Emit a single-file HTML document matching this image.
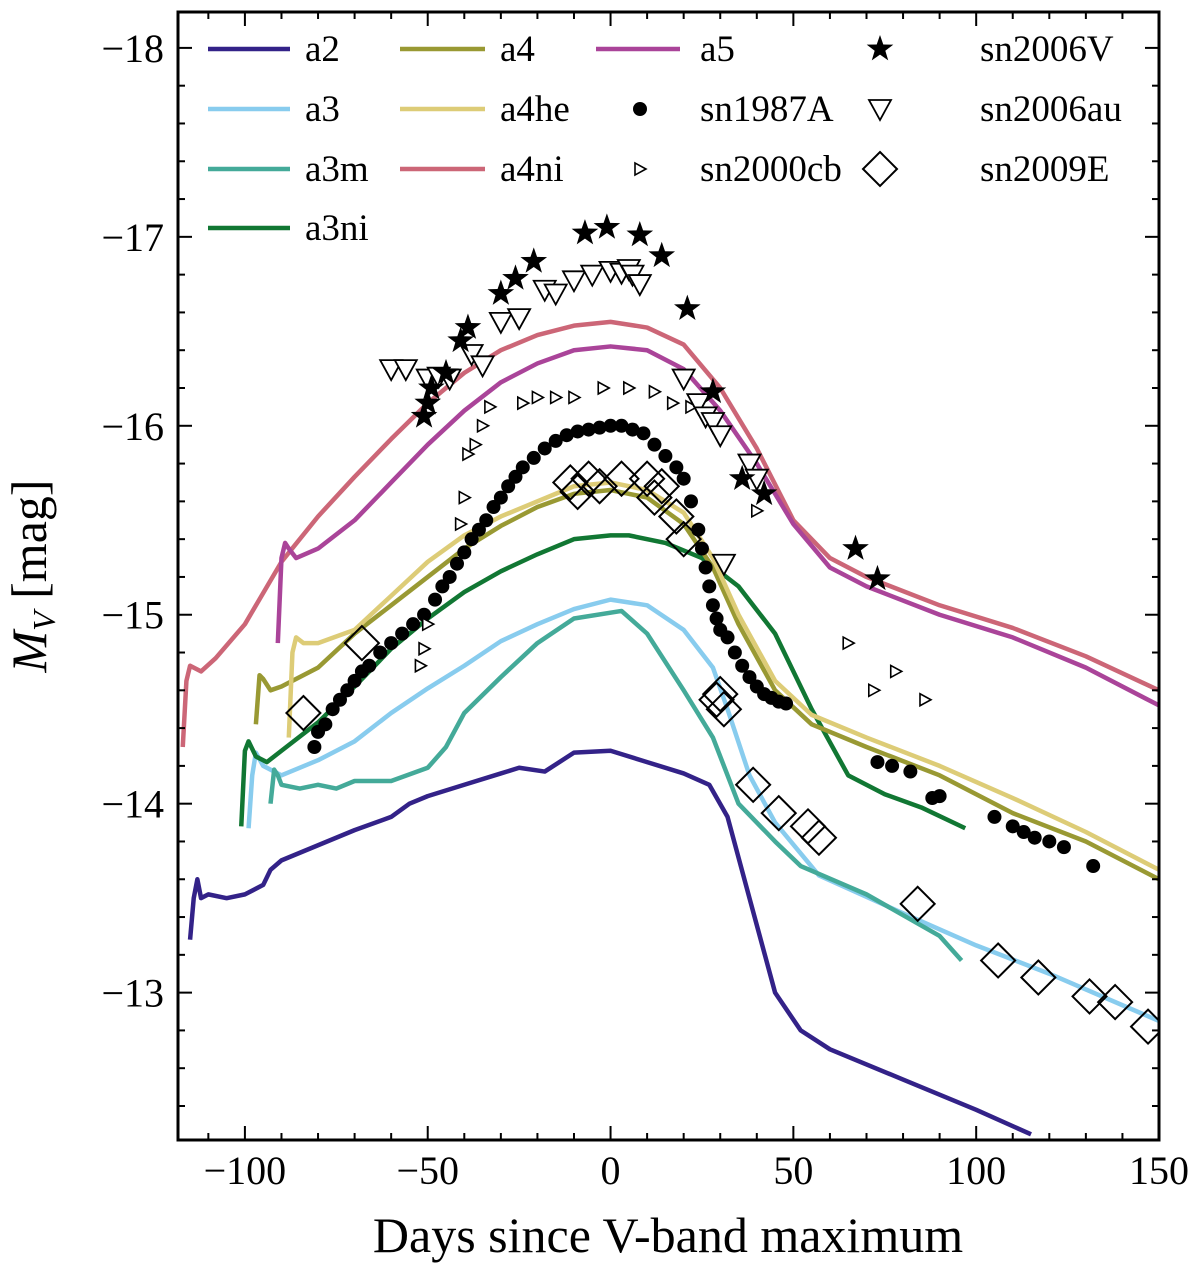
<!DOCTYPE html>
<html><head><meta charset="utf-8">
<style>
html,body{margin:0;padding:0;background:#fff;}
svg text{font-family:"Liberation Serif","DejaVu Serif",serif;fill:#000;}
</style></head>
<body>
<svg id="chart" width="1200" height="1275" viewBox="0 0 1200 1275" xmlns="http://www.w3.org/2000/svg">
<g id="marks"></g>
<g id="axes"></g>
<g id="legend"></g>
</svg>
<script>
// ---- data ----
const xTicks = [-100, -50, 0, 50, 100, 150];
const xTickLabels = ["\u2212100", "\u221250", "0", "50", "100", "150"];
const yTicks = [-18, -17, -16, -15, -14, -13];
const yTickLabels = ["\u221218", "\u221217", "\u221216", "\u221215", "\u221214", "\u221213"];

const a2Days = [-115,-114,-113,-112,-110,-105,-100,-95,-93,-90,-80,-70,-60,-55,-50,-40,-30,-25,-18,-10,0,10,20,27,32,38,45,52,60,80,100,115];
const a2Mag = [-13.28,-13.5,-13.6,-13.5,-13.52,-13.5,-13.52,-13.57,-13.65,-13.7,-13.78,-13.86,-13.93,-14.0,-14.04,-14.1,-14.16,-14.19,-14.17,-14.27,-14.28,-14.22,-14.16,-14.1,-13.93,-13.5,-13.0,-12.8,-12.7,-12.54,-12.38,-12.25];
const a3Days = [-99,-98,-97,-95,-90,-80,-70,-60,-50,-40,-30,-20,-10,0,10,20,28,32,38,45,57,80,100,120,150];
const a3Mag = [-13.87,-14.15,-14.27,-14.2,-14.15,-14.23,-14.33,-14.48,-14.61,-14.73,-14.86,-14.95,-15.03,-15.08,-15.05,-14.92,-14.72,-14.5,-14.15,-13.9,-13.62,-13.42,-13.25,-13.1,-12.85];
const a3mDays = [-93,-92,-91,-90,-85,-80,-75,-70,-65,-60,-50,-45,-40,-30,-20,-10,3,10,20,28,35,45,52,70,90,96];
const a3mMag = [-14.0,-14.18,-14.15,-14.1,-14.08,-14.1,-14.08,-14.12,-14.12,-14.12,-14.19,-14.3,-14.48,-14.67,-14.85,-14.98,-15.02,-14.9,-14.6,-14.35,-14.0,-13.8,-13.67,-13.52,-13.3,-13.17];
const a3niDays = [-101,-100,-99,-97,-94,-90,-80,-70,-60,-50,-40,-30,-20,-10,0,5,15,25,35,45,55,65,75,85,97];
const a3niMag = [-13.88,-14.28,-14.33,-14.25,-14.22,-14.28,-14.43,-14.62,-14.82,-14.98,-15.12,-15.23,-15.32,-15.4,-15.42,-15.42,-15.38,-15.3,-15.15,-14.9,-14.5,-14.15,-14.05,-13.98,-13.87];
const a4Days = [-97,-96,-95,-93,-90,-80,-70,-60,-50,-40,-30,-20,-10,0,10,20,28,35,45,55,70,90,110,130,150];
const a4Mag = [-14.42,-14.68,-14.66,-14.6,-14.62,-14.72,-14.9,-15.05,-15.2,-15.35,-15.47,-15.57,-15.64,-15.66,-15.62,-15.48,-15.25,-14.95,-14.6,-14.42,-14.3,-14.15,-13.95,-13.8,-13.6];
const a4heDays = [-88,-87,-86,-84,-80,-70,-60,-50,-40,-30,-20,-10,0,10,20,28,35,45,55,70,90,110,130,150];
const a4heMag = [-14.35,-14.8,-14.88,-14.85,-14.85,-14.92,-15.1,-15.28,-15.42,-15.52,-15.6,-15.68,-15.7,-15.66,-15.54,-15.3,-15.0,-14.65,-14.47,-14.35,-14.2,-14.03,-13.85,-13.65];
const a4niDays = [-117,-116,-115,-112,-108,-100,-90,-80,-70,-60,-50,-40,-30,-20,-10,0,10,20,30,40,50,60,70,90,110,130,150];
const a4niMag = [-14.3,-14.65,-14.73,-14.7,-14.77,-14.95,-15.28,-15.52,-15.73,-15.93,-16.12,-16.28,-16.4,-16.48,-16.53,-16.55,-16.52,-16.43,-16.2,-15.88,-15.5,-15.3,-15.2,-15.05,-14.93,-14.78,-14.6];
const a5Days = [-91,-90,-89,-88,-86,-80,-70,-60,-50,-40,-30,-20,-10,0,10,20,30,40,50,60,70,90,110,130,150];
const a5Mag = [-14.85,-15.3,-15.38,-15.35,-15.3,-15.35,-15.5,-15.7,-15.9,-16.08,-16.23,-16.33,-16.4,-16.42,-16.4,-16.3,-16.08,-15.8,-15.48,-15.25,-15.15,-15.0,-14.88,-14.72,-14.52];

const sn2006VDays = [-51,-50,-49,-45,-41,-39,-30,-26,-21,-7,-1,8,14,21,28,36,42,67,73];
const sn2006VMag = [-16.05,-16.12,-16.2,-16.28,-16.45,-16.52,-16.7,-16.78,-16.87,-17.02,-17.05,-17.01,-16.9,-16.62,-16.18,-15.72,-15.64,-15.35,-15.19];
const sn2006auDays = [-60,-56,-50,-47,-44,-38,-35,-30,-25,-18,-15,-10,-5,0,3,5,6,8,20,24,26,28,30,38,40,31];
const sn2006auMag = [-16.3,-16.3,-16.25,-16.26,-16.25,-16.38,-16.32,-16.55,-16.57,-16.72,-16.7,-16.77,-16.8,-16.82,-16.81,-16.83,-16.8,-16.75,-16.25,-16.12,-16.05,-16.02,-15.95,-15.8,-15.72,-15.27];
const sn2000cbDays = [-40,-41,-39,-37,-35,-33,-24,-20,-15,-10,-2,5,12,17,22,-52,-51,-50,40,65,72,78,86];
const sn2000cbMag = [-15.62,-15.48,-15.85,-15.9,-16.0,-16.1,-16.12,-16.15,-16.15,-16.15,-16.2,-16.2,-16.18,-16.12,-16.1,-14.73,-14.82,-14.95,-15.55,-14.85,-14.6,-14.7,-14.55];
const sn1987ADays = [-81,-80,-78,-76,-74,-72,-70,-68,-66,-63,-60,-57,-54,-51,-48,-46,-44,-42,-40,-38,-36,-34,-32,-30,-28,-26,-24,-21,-18,-15,-12,-9,-6,-3,0,3,6,9,12,15,18,20,22,24,25,26,27,28,29,30,32,34,36,38,40,42,44,46,48,73,77,82,88,90,105,110,113,116,120,124,132];
const sn1987AMag = [-14.3,-14.38,-14.42,-14.5,-14.55,-14.6,-14.65,-14.7,-14.73,-14.8,-14.85,-14.9,-14.95,-15.0,-15.08,-15.15,-15.2,-15.27,-15.33,-15.4,-15.45,-15.5,-15.57,-15.62,-15.68,-15.73,-15.78,-15.83,-15.88,-15.92,-15.95,-15.97,-15.98,-15.99,-16.0,-16.0,-15.98,-15.96,-15.9,-15.84,-15.78,-15.72,-15.6,-15.45,-15.35,-15.25,-15.15,-15.05,-14.98,-14.92,-14.88,-14.8,-14.73,-14.67,-14.62,-14.58,-14.56,-14.54,-14.53,-14.22,-14.2,-14.17,-14.03,-14.04,-13.93,-13.88,-13.85,-13.82,-13.8,-13.77,-13.67];
const sn2009EDays = [-84,-68,-11,-9,-6,-3,3,10,12,14,18,20,29,30,31,39,46,54,57,84,106,117,131,138,147];
const sn2009EMag = [-14.48,-14.85,-15.7,-15.65,-15.72,-15.68,-15.72,-15.72,-15.62,-15.68,-15.52,-15.4,-14.55,-14.58,-14.5,-14.1,-13.95,-13.88,-13.82,-13.47,-13.17,-13.08,-12.98,-12.95,-12.82];

// ---- axes ----
const L=178,R=1159,T=12,B=1140;
const xMin=-118.3,xMax=150,yTop=-18.19,yBot=-12.22;
const sx=d=>L+(d-xMin)/(xMax-xMin)*(R-L);
const sy=m=>T+(m-yTop)/(yBot-yTop)*(B-T);
const NS="http://www.w3.org/2000/svg";
function mk(tag,attrs,parent){const e=document.createElementNS(NS,tag);for(const k in attrs)e.setAttribute(k,attrs[k]);parent.appendChild(e);return e;}
const marks=document.getElementById('marks'),axes=document.getElementById('axes'),legend=document.getElementById('legend');

const lines=[
 ['a2',a2Days,a2Mag,'#332288'],['a3',a3Days,a3Mag,'#88CCEE'],['a3m',a3mDays,a3mMag,'#44AA99'],['a3ni',a3niDays,a3niMag,'#117733'],
 ['a4',a4Days,a4Mag,'#999933'],['a4he',a4heDays,a4heMag,'#DDCC77'],['a4ni',a4niDays,a4niMag,'#CC6677'],['a5',a5Days,a5Mag,'#AA4499']];
const clip=mk('clipPath',{id:'pc'},marks);mk('rect',{x:L,y:T,width:R-L,height:B-T},clip);
const lg=mk('g',{'clip-path':'url(#pc)'},marks);
lines.forEach(([n,d,m,c])=>{
  const p=mk('polyline',{points:d.map((v,i)=>sx(v)+','+sy(m[i])).join(' '),fill:'none',stroke:c,'stroke-width':4.5,'stroke-linejoin':'round'},lg);
  
  
});
function star(x,y,r){let s='';for(let i=0;i<10;i++){const a=-Math.PI/2+i*Math.PI/5,rr=i%2?r*0.4:r;s+=(x+rr*Math.cos(a))+','+(y+rr*Math.sin(a))+' ';}return s;}
function drawMarker(kind,x,y,parent,name){
  let e;
  if(kind==='star')e=mk('polygon',{points:star(x,y,14),fill:'#000'},parent);
  else if(kind==='dot')e=mk('circle',{cx:x,cy:y,r:7,fill:'#000'},parent);
  else if(kind==='tdown')e=mk('polygon',{points:`${x-11},${y-9} ${x+11},${y-9} ${x},${y+11}`,fill:'#fff',stroke:'#000','stroke-width':1.8},parent);
  else if(kind==='tright')e=mk('polygon',{points:`${x-5},${y-6} ${x-5},${y+6} ${x+6},${y}`,fill:'#fff',stroke:'#000','stroke-width':1.6},parent);
  else e=mk('polygon',{points:`${x},${y-17} ${x+17},${y} ${x},${y+17} ${x-17},${y}`,fill:'none',stroke:'#000','stroke-width':2},parent);
  
  
}
const scat=[['sn1987A',sn1987ADays,sn1987AMag,'dot'],['sn2000cb',sn2000cbDays,sn2000cbMag,'tright'],['sn2006au',sn2006auDays,sn2006auMag,'tdown'],['sn2009E',sn2009EDays,sn2009EMag,'diamond'],['sn2006V',sn2006VDays,sn2006VMag,'star']];
scat.forEach(([n,d,m,k])=>d.forEach((v,i)=>drawMarker(k,sx(v),sy(m[i]),lg,'point-'+n)));

// frame and ticks
mk('rect',{x:L,y:T,width:R-L,height:B-T,fill:'none',stroke:'#000','stroke-width':3},axes);
for(let d=-110;d<=150;d+=10){const x=sx(d),maj=d%50===0,len=maj?14:7;
  mk('line',{x1:x,y1:B,x2:x,y2:B-len,stroke:'#000','stroke-width':2},axes);
  mk('line',{x1:x,y1:T,x2:x,y2:T+len,stroke:'#000','stroke-width':2},axes);}
for(let k=0;k<=30;k++){const m=-18.2+k*0.2;if(m>yBot+1e-6||m<yTop-1e-6)continue;const y=sy(m);const maj=Math.abs(m-Math.round(m))<1e-6,len=maj?14:7;
  mk('line',{x1:L,y1:y,x2:L+len,y2:y,stroke:'#000','stroke-width':2},axes);
  mk('line',{x1:R,y1:y,x2:R-len,y2:y,stroke:'#000','stroke-width':2},axes);}
xTicks.forEach((d,i)=>{const t=mk('text',{x:sx(d),y:1184,'text-anchor':'middle','font-size':40},axes);t.textContent=xTickLabels[i];
  
  });
yTicks.forEach((m,i)=>{const t=mk('text',{x:164,y:sy(m)+14,'text-anchor':'end','font-size':40},axes);t.textContent=yTickLabels[i];
  
  });
const xt=mk('text',{x:668,y:1252,'text-anchor':'middle','font-size':50},axes);xt.textContent='Days since V-band maximum';


const yt=mk('text',{transform:'translate(46,576) rotate(-90)','text-anchor':'middle','font-size':50},axes);
yt.innerHTML='<tspan font-style="italic">M</tspan><tspan font-style="italic" font-size="32" dy="9">V</tspan><tspan dy="-9"> [mag]</tspan>';



// legend
const rows=[60,120,180,239];
const lgItems=[
 ['a2',0,0,'line','#332288'],['a3',0,1,'line','#88CCEE'],['a3m',0,2,'line','#44AA99'],['a3ni',0,3,'line','#117733'],
 ['a4',1,0,'line','#999933'],['a4he',1,1,'line','#DDCC77'],['a4ni',1,2,'line','#CC6677'],
 ['a5',2,0,'line','#AA4499'],['sn1987A',2,1,'dot'],['sn2000cb',2,2,'tright'],
 ['sn2006V',3,0,'star'],['sn2006au',3,1,'tdown'],['sn2009E',3,2,'diamond']];
const colX=[[208,290,305],[400,485,500],[596,680,700],[840,920,980]];
lgItems.forEach(([n,c,r,k,col])=>{const y=rows[r],[x1,x2,tx]=colX[c];
  const g=mk('g',{},legend);
  
  
  if(k==='line')mk('line',{x1:x1,y1:y-11,x2:x2,y2:y-11,stroke:col,'stroke-width':4.5},g);
  else drawMarker(k,(c===3?880:640),y-11,g,'legend-marker-'+n);
  const t=mk('text',{x:tx,y:y+1,'font-size':37},g);t.textContent=n;});
</script>
</body></html>
